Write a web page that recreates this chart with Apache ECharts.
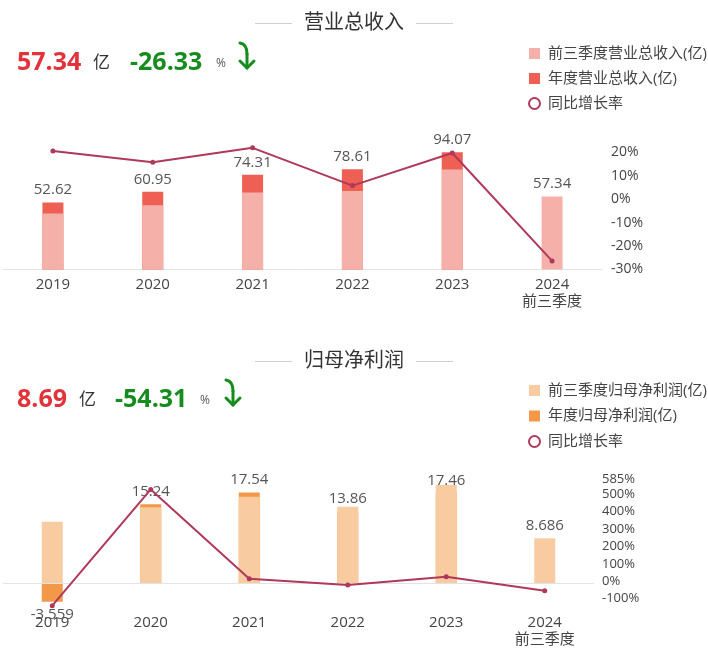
<!DOCTYPE html>
<html>
<head>
<meta charset="utf-8">
<script src="https://cdn.jsdelivr.net/npm/echarts@6/dist/echarts.min.js"></script>
<style>
html,body{margin:0;padding:0;background:#fff;}
#c{width:708px;height:661px;}
</style>
</head>
<body>
<div id="c"></div>
<script>
// ---- data ----
const categories = ['2019', '2020', '2021', '2022', '2023', '2024\n前三季度'];

// 营业总收入 (亿)
const revQ3 = [44.0, 50.5, 60.5, 61.7, 78.5, 57.34];
const revAnnual = [52.62, 60.95, 74.31, 78.61, 94.07, null];
const revGrowth = [20.6, 15.8, 21.9, 5.8, 19.7, -26.33];
const revTicks = [-30, -20, -10, 0, 10, 20];

// 归母净利润 (亿)
const npQ3 = [11.9, 14.7, 16.7, 14.8, 19.0, 8.686];
const npAnnual = [-3.559, 15.24, 17.54, 13.86, 17.46, null];
const npGrowth = [-140, 528, 15.1, -21, 26, -54.31];
const npTicks = [-100, 0, 100, 200, 300, 400, 500, 585];

// ---- helpers ----
const FONT = "'Open Sans', 'Noto Sans CJK SC', sans-serif";
const LINE_COLOR = '#b0385a';
const GREEN = '#168c1f';
const RED = '#e2323a';

const revLabels = revAnnual.map((v, i) => v == null ? revQ3[i] : v);
const npLabels = npAnnual.map((v, i) => v == null ? npQ3[i] : v);

function header(titleText, titleY, numY, mainVal, unitX, pctVal, pctX, pctSignX, arrowX) {
  const els = [];
  els.push({type: 'text', x: 354, y: titleY, style: {text: titleText, fill: '#333', font: '20px ' + FONT, align: 'center', verticalAlign: 'middle'}});
  els.push({type: 'line', shape: {x1: 255, y1: titleY + 0.5, x2: 292, y2: titleY + 0.5}, style: {stroke: '#cfcfcf', lineWidth: 1}});
  els.push({type: 'line', shape: {x1: 416, y1: titleY + 0.5, x2: 453, y2: titleY + 0.5}, style: {stroke: '#cfcfcf', lineWidth: 1}});
  els.push({type: 'text', x: 17, y: numY, style: {text: mainVal.toFixed(2), fill: RED, font: 'bold 25px ' + FONT, align: 'left', verticalAlign: 'middle'}});
  els.push({type: 'text', x: unitX, y: numY, style: {text: '亿', fill: '#333', font: '17px ' + FONT, align: 'left', verticalAlign: 'middle'}});
  els.push({type: 'text', x: pctX, y: numY, style: {text: pctVal.toFixed(2), fill: GREEN, font: 'bold 25px ' + FONT, align: 'left', verticalAlign: 'middle'}});
  els.push({type: 'text', x: pctSignX, y: numY + 1, style: {text: '%', fill: '#555', font: '12px ' + FONT, align: 'left', verticalAlign: 'middle'}});
  const ax = arrowX, ay = numY - 21;
  els.push({type: 'bezierCurve', shape: {x1: ax + 2, y1: ay + 1, cpx1: ax + 9, cpy1: ay + 2, x2: ax + 9, y2: ay + 12}, style: {stroke: GREEN, lineWidth: 3, fill: null, lineCap: 'round'}});
  els.push({type: 'line', shape: {x1: ax + 9, y1: ay + 12, x2: ax + 9, y2: ay + 26}, style: {stroke: GREEN, lineWidth: 3, lineCap: 'round'}});
  els.push({type: 'polyline', shape: {points: [[ax + 2, ay + 19], [ax + 9, ay + 26], [ax + 16, ay + 19]]}, style: {stroke: GREEN, lineWidth: 3, fill: null, lineCap: 'round', lineJoin: 'round'}});
  return els;
}

const chart = echarts.init(document.getElementById('c'), null, {renderer: 'canvas'});

const xAxisCommon = {
  type: 'category',
  data: categories,
  axisTick: {show: false},
  axisLabel: {color: '#444', fontSize: 15, fontFamily: FONT, lineHeight: 17, margin: 7, interval: 0}
};

const barLabel = {
  show: true, position: 'outside', distance: 5, color: '#555', fontSize: 15, fontFamily: FONT
};

const rateLegendItem = {name: '同比增长率', icon: 'circle', itemStyle: {color: '#ffffff', borderColor: LINE_COLOR, borderWidth: 2}};

const option = {
  animation: false,
  backgroundColor: '#fff',
  textStyle: {fontFamily: FONT},
  graphic: [
    ...header('营业总收入', 23, 63, revQ3[5], 93, revGrowth[5], 130, 216, 238),
    ...header('归母净利润', 361, 400, npQ3[5], 79, npGrowth[5], 115, 200, 224)
  ],
  legend: [
    {
      orient: 'vertical', left: 523, top: 41, itemWidth: 11, itemHeight: 11, itemGap: 10,
      textStyle: {color: '#444', fontSize: 15, lineHeight: 15, fontFamily: FONT, padding: [0, 0, 0, 3]},
      data: [
        {name: '前三季度营业总收入(亿)', icon: 'rect'},
        {name: '年度营业总收入(亿)', icon: 'rect'},
        rateLegendItem
      ]
    },
    {
      orient: 'vertical', left: 523, top: 378, itemWidth: 11, itemHeight: 11, itemGap: 10.5,
      textStyle: {color: '#444', fontSize: 15, lineHeight: 15, fontFamily: FONT, padding: [0, 0, 0, 3]},
      data: [
        {name: '前三季度归母净利润(亿)', icon: 'rect'},
        {name: '年度归母净利润(亿)', icon: 'rect'},
        rateLegendItem
      ]
    }
  ],
  grid: [
    {left: 3, right: 106, top: 152.3, height: 117.2, containLabel: false},
    {left: 3, right: 114, top: 479.5, height: 128.1, containLabel: false}
  ],
  xAxis: [
    Object.assign({}, xAxisCommon, {gridIndex: 0, axisLine: {show: true, onZero: false, lineStyle: {color: '#e3e3e3', width: 1}}}),
    Object.assign({}, xAxisCommon, {gridIndex: 1, axisLine: {show: false, onZero: false}})
  ],
  yAxis: [
    {gridIndex: 0, type: 'value', min: 0, max: 92, show: false, splitLine: {show: false}},
    {gridIndex: 0, type: 'value', position: 'right', min: -30, max: 20, interval: 10,
      splitLine: {show: false}, axisLine: {show: false}, axisTick: {show: false},
      axisLabel: {formatter: '{value}%', color: '#444', fontSize: 14, fontFamily: FONT, margin: 9, customValues: revTicks}},
    {gridIndex: 1, type: 'value', min: -4.69, max: 20.04, show: false, splitLine: {show: false}},
    {gridIndex: 1, type: 'value', position: 'right', min: -151, max: 585,
      splitLine: {show: false}, axisLine: {show: false}, axisTick: {show: false},
      axisLabel: {formatter: '{value}%', color: '#444', fontSize: 13, fontFamily: FONT, margin: 8, customValues: npTicks}}
  ],
  series: [
    // chart 1
    {name: '年度营业总收入(亿)', type: 'bar', xAxisIndex: 0, yAxisIndex: 0, data: revAnnual, barWidth: 21, barGap: '-100%', z: 2,
      itemStyle: {color: '#ee5f54'}},
    {name: '前三季度营业总收入(亿)', type: 'bar', xAxisIndex: 0, yAxisIndex: 0, data: revQ3, barWidth: 21, barGap: '-100%', z: 3,
      itemStyle: {color: '#f5b1a9'}},
    {name: 'revLabel', type: 'bar', xAxisIndex: 0, yAxisIndex: 0, data: revLabels, barWidth: 21, barGap: '-100%', z: 4,
      itemStyle: {color: 'rgba(0,0,0,0)'}, label: barLabel, silent: true},
    {name: '同比增长率', type: 'line', xAxisIndex: 0, yAxisIndex: 1, data: revGrowth, z: 5,
      symbol: 'circle', symbolSize: 5, lineStyle: {color: LINE_COLOR, width: 2}, itemStyle: {color: LINE_COLOR}, clip: false},
    // chart 2
    {name: '年度归母净利润(亿)', type: 'bar', xAxisIndex: 1, yAxisIndex: 2, data: npAnnual, barWidth: 21, barGap: '-100%', z: 2,
      itemStyle: {color: '#f29848'},
      markLine: {silent: true, symbol: 'none', label: {show: false}, lineStyle: {color: '#e3e3e3', type: 'solid', width: 1}, data: [{yAxis: 0}]}},
    {name: '前三季度归母净利润(亿)', type: 'bar', xAxisIndex: 1, yAxisIndex: 2, data: npQ3, barWidth: 21, barGap: '-100%', z: 3,
      itemStyle: {color: '#f8cba0'}},
    {name: 'npLabel', type: 'bar', xAxisIndex: 1, yAxisIndex: 2, data: npLabels, barWidth: 21, barGap: '-100%', z: 4,
      itemStyle: {color: 'rgba(0,0,0,0)'}, label: barLabel, silent: true},
    {name: '同比增长率', type: 'line', xAxisIndex: 1, yAxisIndex: 3, data: npGrowth, z: 5,
      symbol: 'circle', symbolSize: 5, lineStyle: {color: LINE_COLOR, width: 2}, itemStyle: {color: LINE_COLOR}, clip: false}
  ]
};
chart.setOption(option);
</script>
</body>
</html>
